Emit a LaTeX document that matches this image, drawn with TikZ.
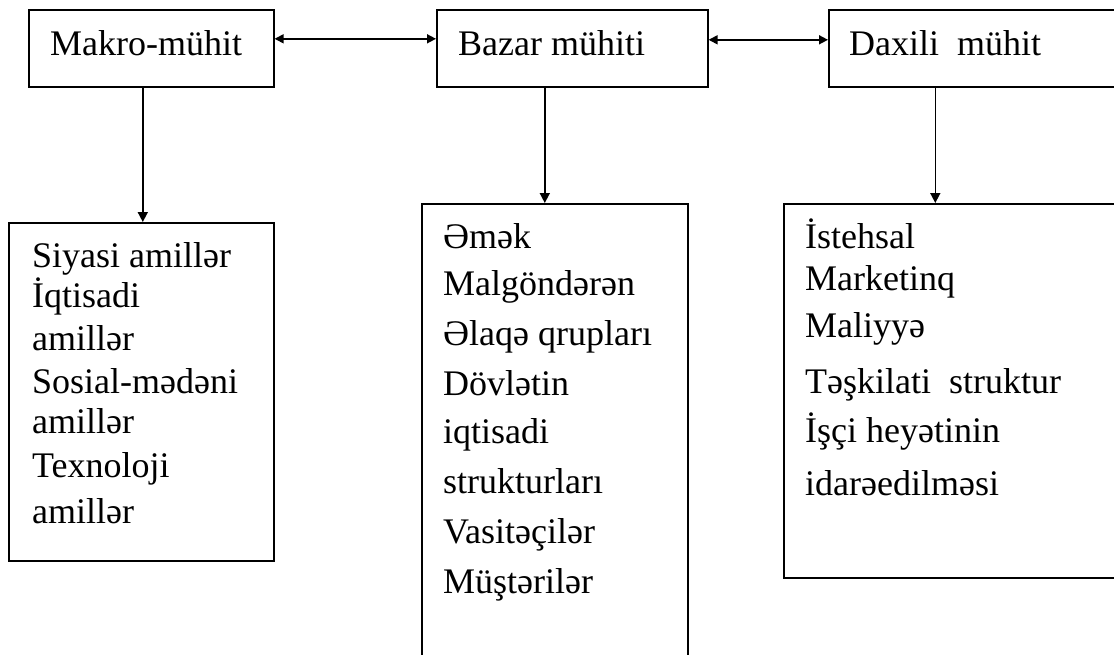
\documentclass[tikz,border=0pt]{standalone}
\usepackage{fontspec}
\setmainfont{Liberation Serif}
\usetikzlibrary{arrows.meta}
\tikzset{
  box/.style={draw, line width=1.6pt, anchor=north west, inner sep=0pt},
  txt/.style={anchor=base west, inner sep=0pt, font=\fontsize{36}{40}\selectfont},
  arr/.style={line width=1.6pt, -{Triangle[length=10pt,width=10pt]}},
  darr/.style={line width=1.6pt, {Triangle[length=9pt,width=9pt]}-{Triangle[length=9pt,width=9pt]}}
}
\begin{document}
\begin{tikzpicture}[x=1pt,y=-1pt]
\clip (0,0) rectangle (1114,654);
\fill[white] (0,0) rectangle (1114,654);
% top boxes
\node[box, minimum width=245pt, minimum height=77pt] (makro) at (28,9) {};
\node[box, minimum width=271pt, minimum height=77pt] (bazar) at (436,9) {};
\node[box, minimum width=297pt, minimum height=77pt] (daxili) at (828,9) {};
% bottom boxes
\node[box, minimum width=265pt, minimum height=338pt] (lbox) at (8,222) {};
\node[box, minimum width=266pt, minimum height=467pt] (mbox) at (421,203) {};
\node[box, minimum width=342pt, minimum height=374pt] (rbox) at (783,203) {};
% top texts
\node[txt] (t1) at (50,55) {Makro-mühit};
\node[txt] (t2) at (458,55) {Bazar mühiti};
\node[txt] (t3) at (849,55) {Daxili\ \ mühit};
% left box texts
\node[txt] (l1) at (32,267) {Siyasi amillər};
\node[txt] (l2) at (32,307) {İqtisadi};
\node[txt] (l3) at (32,350) {amillər};
\node[txt] (l4) at (32,393) {Sosial-mədəni};
\node[txt] (l5) at (32,433) {amillər};
\node[txt] (l6) at (32,477) {Texnoloji};
\node[txt] (l7) at (32,523) {amillər};
% middle box texts
\node[txt] (m1) at (443,248) {Əmək};
\node[txt] (m2) at (443,295) {Malgöndərən};
\node[txt] (m3) at (443,345) {Əlaqə qrupları};
\node[txt] (m4) at (443,395) {Dövlətin};
\node[txt] (m5) at (443,443) {iqtisadi};
\node[txt] (m6) at (443,493) {strukturları};
\node[txt] (m7) at (443,543) {Vasitəçilər};
\node[txt] (m8) at (443,593) {Müştərilər};
% right box texts
\node[txt] (r1) at (805,248) {İstehsal};
\node[txt] (r2) at (805,290) {Marketinq};
\node[txt] (r3) at (805,337) {Maliyyə};
\node[txt] (r4) at (805,393) {Təşkilati\ \ struktur};
\node[txt] (r5) at (805,442) {İşçi heyətinin};
\node[txt] (r6) at (805,495) {idarəedilməsi};
% connectors
\draw[darr] ([yshift=9.5pt]makro.east) -- ([yshift=9.5pt]bazar.west);
\draw[darr] ([yshift=8.5pt]bazar.east) -- ([yshift=8.5pt]daxili.west);
\draw[arr] ([xshift=-8.5pt]makro.south) -- ([xshift=-8.5pt]makro.south |- lbox.north);
\draw[arr] ([xshift=-27.5pt]bazar.south) -- ([xshift=-27.5pt]bazar.south |- mbox.north);
\draw[arr] ([xshift=-42pt]daxili.south) -- ([xshift=-42pt]daxili.south |- rbox.north);
\end{tikzpicture}
\end{document}
